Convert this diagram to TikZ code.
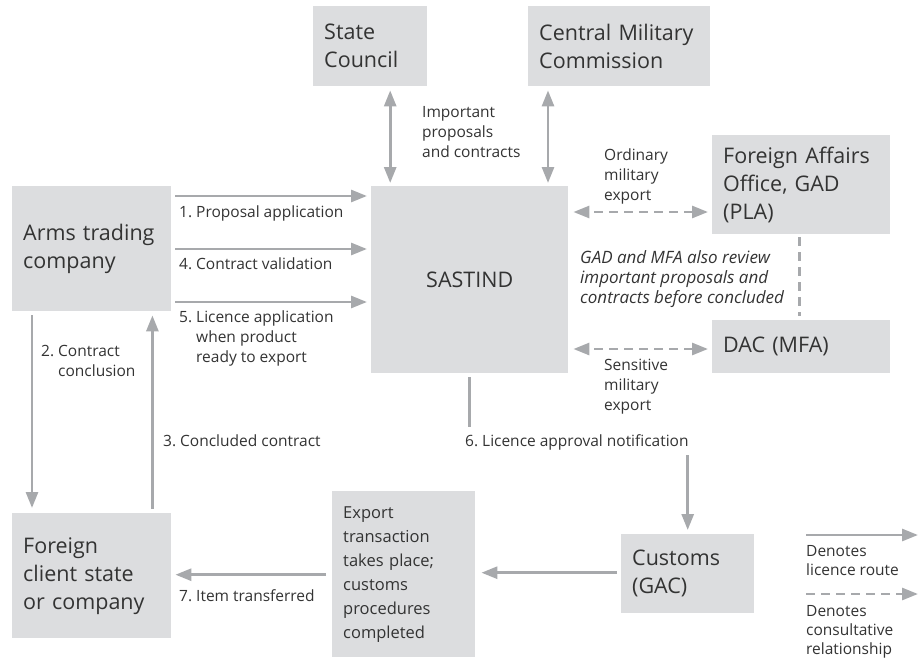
\documentclass[tikz,border=0pt]{standalone}
\usepackage{fontspec}
\setmainfont{Open Sans}
\usetikzlibrary{arrows.meta}
\definecolor{boxgray}{HTML}{DCDDDF}
\definecolor{arrgray}{HTML}{A7A9AC}
\definecolor{txtgray}{HTML}{333333}
\begin{document}
\begin{tikzpicture}[x=1pt, y=-1pt,
  box/.style={fill=boxgray, text=txtgray, anchor=north west, align=left, inner xsep=11pt, inner ysep=0pt, font=\fontsize{21.5}{28}\selectfont},
  lbl/.style={text=txtgray, anchor=north west, align=left, inner sep=0pt, font=\fontsize{15.5}{20}\selectfont},
  lic/.style={draw=arrgray, line width=2.8pt, -{Triangle[length=16pt,width=12pt]}},
  twoway/.style={lic, {Triangle[length=16pt,width=12pt]}-{Triangle[length=16pt,width=12pt]}},
  cons/.style={twoway, dash pattern=on 9pt off 6pt},
  plain/.style={draw=arrgray, line width=2.8pt}]
\useasboundingbox (0,0) rectangle (918,661);

\node[box, minimum width=114, minimum height=80, text width=92] (sc) at (313,6) {State\\Council};
\node[box, minimum width=182, minimum height=80, text width=160] (cmc) at (528,6) {Central Military\\Commission};
\node[box, minimum width=159, minimum height=125, text width=137] (arms) at (12,186) {Arms trading\\company};
\node[box, minimum width=197, minimum height=187, align=center] (sast) at (371,186) {SASTIND};
\node[box, minimum width=178, minimum height=99, text width=156] (fao) at (712,135) {Foreign Affairs\\Office, GAD\\(PLA)};
\node[box, minimum width=178, minimum height=53, text width=156] (dac) at (712,320) {DAC (MFA)};
\node[box, minimum width=159, minimum height=125, text width=137] (client) at (12,513) {Foreign\\client state\\or company};
\node[box, minimum width=143, minimum height=166, text width=121, font=\fontsize{16.5}{24}\selectfont] (trans) at (332,491) {Export\\transaction\\takes place;\\customs\\procedures\\completed};
\node[box, minimum width=133, minimum height=79, text width=111] (cust) at (621,534) {Customs\\(GAC)};

\draw[twoway, shorten <=4pt, shorten >=3pt] ([xshift=20pt]sc.south) -- ([xshift=20pt]sc.south |- sast.north);
\draw[twoway, shorten <=4pt, shorten >=3pt] ([xshift=20pt]cmc.south west) -- ([xshift=20pt]cmc.south west |- sast.north);
\node[lbl] (imp) at (422,106.5) {Important\\proposals\\and contracts};

\draw[lic, shorten <=4pt, shorten >=4pt] ([yshift=-10pt]arms.north east) -- ([yshift=-10pt]arms.north east -| sast.west);
\draw[lic, shorten <=4pt, shorten >=4pt] ([yshift=-63pt]arms.north east) -- ([yshift=-63pt]arms.north east -| sast.west);
\draw[lic, shorten <=4pt, shorten >=4pt] ([yshift=-116pt]arms.north east) -- ([yshift=-116pt]arms.north east -| sast.west);
\node[lbl] (l1) at (179,205.5) {1.~Proposal application};
\node[lbl] (l4) at (179,257.5) {4.~Contract validation};
\node[lbl] (l5) at (179,310.5) {5.~Licence application\\\phantom{5.~}when product\\\phantom{5.~}ready to export};

\draw[lic, shorten <=4pt, shorten >=5pt] ([xshift=20pt]arms.south west) -- ([xshift=20pt]arms.south west |- client.north);
\draw[lic, shorten <=4pt, shorten >=4pt] ([xshift=-19pt]client.north east) -- ([xshift=-19pt]client.north east |- arms.south);
\node[lbl] (l2) at (41,345.5) {2.~Contract\\\phantom{2.~}conclusion};
\node[lbl] (l3) at (163,434.5) {3.~Concluded contract};

\draw[cons, shorten <=4pt, shorten >=5pt] ([yshift=-77pt]fao.north west) -- ([yshift=-77pt]fao.north west -| sast.east);
\draw[cons, shorten <=4pt, shorten >=5pt] ([yshift=-29pt]dac.north west) -- ([yshift=-29pt]dac.north west -| sast.east);
\draw[plain, dash pattern=on 9pt off 6pt, shorten <=3pt, shorten >=4pt] ([xshift=-2pt]fao.south) -- ([xshift=-2pt]fao.south |- dac.north);
\node[lbl] (ord) at (604,148.5) {Ordinary\\military\\export};
\node[lbl] (sens) at (604,358.5) {Sensitive\\military\\export};
\node[lbl, font=\fontsize{17}{20}\selectfont\itshape] (rev) at (580,250) {GAD and MFA also review\\important proposals and\\contracts before concluded};

\node[lbl] (l6) at (465,434.5) {6.~Licence approval notification};
\draw[plain, shorten <=4pt] (sast.south) -- (sast.south |- 0,427);
\draw[lic, shorten <=5pt, shorten >=4pt] (cust.north |- l6.south) -- (cust.north);

\draw[lic, shorten <=4pt, shorten >=6pt] ([yshift=1pt]cust.west) -- ([yshift=1pt]cust.west -| trans.east);
\draw[lic, shorten <=6pt, shorten >=4pt] ([yshift=1pt]client.east -| trans.west) -- ([yshift=1pt]client.east);
\node[lbl] (l7) at (179,589.5) {7.~Item transferred};

\coordinate (leg1) at (806,535);
\coordinate (leg2) at (806,594);
\draw[lic] (leg1) -- ++(112,0);
\draw[lic, dash pattern=on 9pt off 6pt] (leg2) -- ++(112,0);
\node[lbl, font=\fontsize{15.5}{19}\selectfont] (d1) at (806,545.5) {Denotes\\licence route};
\node[lbl, font=\fontsize{15.5}{19}\selectfont] (d2) at (806,605.5) {Denotes\\consultative\\relationship};
\end{tikzpicture}
\end{document}
